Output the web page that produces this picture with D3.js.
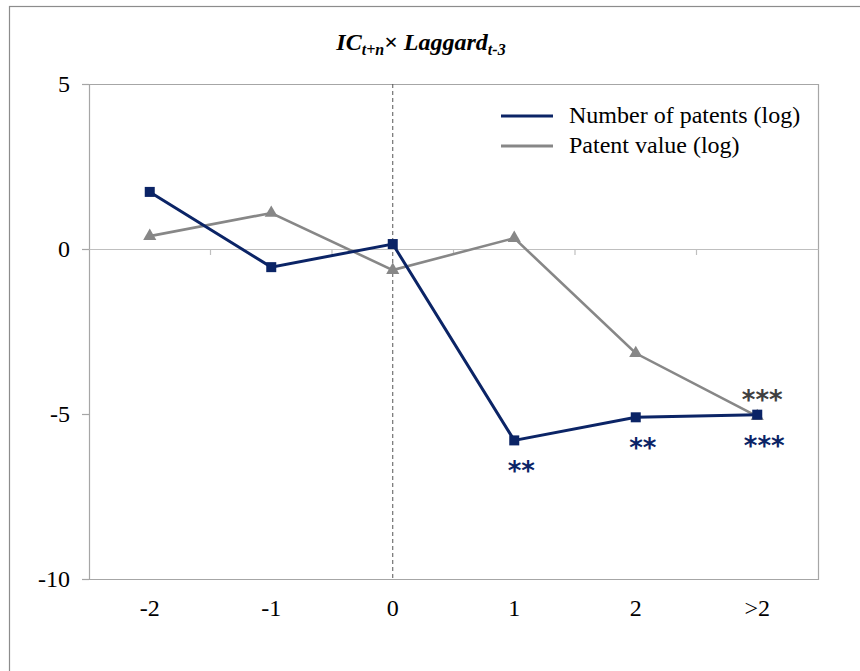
<!DOCTYPE html>
<html><head><meta charset="utf-8">
<script src="https://cdn.jsdelivr.net/npm/d3@7"></script>
<style>
body{margin:0;background:#fff;}
svg{display:block;}
</style></head>
<body>
<svg id="chart" width="860" height="671"></svg>
<script>
const categories = ["-2","-1","0","1","2",">2"];
const patentsCount = [1.73,-0.55,0.15,-5.80,-5.10,-5.02];
const patentValue = [0.39,1.09,-0.64,0.33,-3.16,-5.07];
const countStars = ["","","","**","**","***"];
const valueStars = ["","","","","","***"];
const yTicks = [5,0,-5,-10];
const seriesNames = ["Number of patents (log)","Patent value (log)"];

const svg = d3.select("#chart");
const W=860,H=671;
const m={left:89,right:818,top:84,bottom:579};
const serif = "'Liberation Serif','Times New Roman',serif";

// outer frame
svg.append("rect").attr("x",9.5).attr("y",6.5).attr("width",W).attr("height",H)
  .attr("fill","none").attr("stroke","#8c8c8c").attr("stroke-width",1.2);

const x = d3.scaleBand().domain(categories).range([m.left,m.right]);
const y = d3.scaleLinear().domain([-10,5]).range([m.bottom,m.top]);
const cx = d => x(d)+x.bandwidth()/2;

// plot border (top, right, bottom)
svg.append("path").attr("d",`M${m.left},${m.top+0.5}H${m.right+0.5}V${m.bottom+0.5}H${m.left}`)
  .attr("fill","none").attr("stroke","#a6a6a6").attr("stroke-width",1.2);

// y axis
const yAxis = svg.append("g").attr("transform",`translate(${m.left},0)`)
  .call(d3.axisLeft(y).tickValues(yTicks).tickSize(7).tickPadding(12).tickFormat(d=>String(d)));
yAxis.attr("font-family",serif).attr("font-size",24);
yAxis.select(".domain").attr("stroke","#a6a6a6").attr("stroke-width",1.2);
yAxis.selectAll(".tick line").attr("stroke","#a6a6a6").attr("stroke-width",1.2);
yAxis.selectAll("text").attr("fill","#000");

// zero line with category ticks
const xAxis = svg.append("g").attr("transform",`translate(0,${y(0)})`)
  .call(d3.axisBottom(x).tickSize(0).tickFormat(""));
xAxis.select(".domain").attr("stroke","#bfbfbf").attr("stroke-width",1.2);
const bounds = categories.slice(1).map(c=>x(c));
svg.append("g").selectAll("line").data(bounds).join("line")
  .attr("x1",d=>d).attr("x2",d=>d).attr("y1",y(0)).attr("y2",y(0)+6)
  .attr("stroke","#bfbfbf").attr("stroke-width",1.2);

// x labels at bottom
svg.append("g").selectAll("text").data(categories).join("text")
  .attr("x",d=>cx(d)).attr("y",m.bottom+31).attr("text-anchor","middle")
  .attr("dominant-baseline","middle")
  .attr("font-family",serif).attr("font-size",24).attr("fill","#000").text(d=>d);

// dashed vertical line at 0
svg.append("line").attr("x1",cx("0")).attr("x2",cx("0")).attr("y1",m.top).attr("y2",m.bottom)
  .attr("stroke","#555").attr("stroke-width",1).attr("stroke-dasharray","4,3");

const line = d3.line().x((d,i)=>cx(categories[i])).y(d=>y(d));

// patent value series (gray)
svg.append("path").datum(patentValue).attr("d",line).attr("fill","none")
  .attr("stroke","#878787").attr("stroke-width",2.6);
svg.append("g").selectAll("path").data(patentValue).join("path")
  .attr("d",d3.symbol(d3.symbolTriangle,75))
  .attr("transform",(d,i)=>`translate(${cx(categories[i])},${y(d)})`)
  .attr("fill","#878787");

// patents count series (navy)
svg.append("path").datum(patentsCount).attr("d",line).attr("fill","none")
  .attr("stroke","#0b2466").attr("stroke-width",3);
svg.append("g").selectAll("rect").data(patentsCount).join("rect")
  .attr("x",(d,i)=>cx(categories[i])-5).attr("y",d=>y(d)-5)
  .attr("width",10).attr("height",10).attr("fill","#0b2466");

// significance stars
const starFont = "'DejaVu Sans',sans-serif";
svg.append("g").selectAll("text").data(countStars).join("text")
  .attr("x",(d,i)=>cx(categories[i])+7).attr("y",(d,i)=>y(patentsCount[i])+40)
  .attr("text-anchor","middle").attr("font-family",starFont).attr("font-weight","bold")
  .attr("font-size",26).attr("letter-spacing",0).attr("fill","#0b2466").text(d=>d);
svg.append("g").selectAll("text").data(valueStars).join("text")
  .attr("x",(d,i)=>cx(categories[i])+5).attr("y",(d,i)=>y(patentValue[i])-7)
  .attr("text-anchor","middle").attr("font-family",starFont).attr("font-weight","bold")
  .attr("font-size",26).attr("letter-spacing",0).attr("fill","#404040").text(d=>d);

// legend
const lg = svg.append("g");
const lgColors = ["#0b2466","#878787"];
seriesNames.forEach((n,i)=>{
  const ly = 116 + i*30;
  lg.append("line").attr("x1",501).attr("x2",553).attr("y1",ly).attr("y2",ly)
    .attr("stroke",lgColors[i]).attr("stroke-width",i===0?3:2.8);
  lg.append("text").attr("x",569).attr("y",ly+1).attr("dominant-baseline","middle")
    .attr("font-family",serif).attr("font-size",24).attr("fill","#000").text(n);
});

// title
const t = svg.append("text").attr("x",421).attr("y",50).attr("text-anchor","middle")
  .attr("font-family",serif).attr("font-size",24).attr("font-weight","bold").attr("font-style","italic");
t.append("tspan").text("IC");
t.append("tspan").attr("font-size",16).attr("dy",5).text("t+n");
t.append("tspan").attr("dy",-5).attr("font-style","normal").text("× ");
t.append("tspan").text("Laggard");
t.append("tspan").attr("font-size",16).attr("dy",5).text("t-3");
</script>
</body></html>
